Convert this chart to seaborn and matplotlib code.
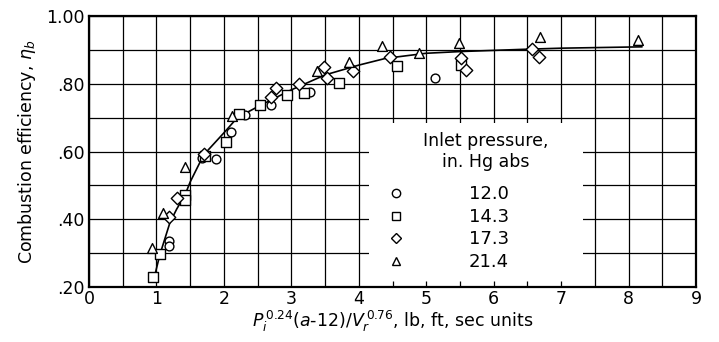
import numpy as np
import pandas as pd
import matplotlib
matplotlib.use("Agg")
import matplotlib.pyplot as plt
from matplotlib.lines import Line2D
from matplotlib.patches import Rectangle
import seaborn as sns

# ---- data ----
p120_x = [1.18, 1.18, 1.68, 1.89, 2.10, 2.32, 2.70, 3.27, 5.13]
p120_y = [0.336, 0.322, 0.582, 0.577, 0.657, 0.708, 0.737, 0.777, 0.818]

p143_x = [0.945, 1.053, 1.42, 1.42, 1.72, 2.03, 2.23, 2.54, 2.93, 3.19, 3.70, 4.56, 5.51]
p143_y = [0.229, 0.298, 0.472, 0.457, 0.588, 0.629, 0.711, 0.737, 0.767, 0.774, 0.803, 0.853, 0.855]

p173_x = [1.19, 1.30, 1.70, 2.70, 2.77, 3.12, 3.49, 3.53, 3.92, 4.46, 5.51, 5.59, 6.57, 6.67]
p173_y = [0.406, 0.464, 0.593, 0.762, 0.787, 0.799, 0.849, 0.816, 0.839, 0.878, 0.875, 0.841, 0.902, 0.878]

p214_x = [0.93, 1.10, 1.42, 2.12, 3.38, 3.85, 4.34, 4.90, 5.49, 6.68, 8.14]
p214_y = [0.315, 0.418, 0.555, 0.705, 0.839, 0.865, 0.912, 0.890, 0.921, 0.939, 0.929]

curve_x = [0.97, 1.05, 1.20, 1.30, 1.42, 1.50, 1.70, 2.00, 2.20, 2.50, 3.00, 3.50,
           4.00, 4.40, 5.00, 5.50, 6.50, 7.00, 8.20]
curve_y = [0.230, 0.295, 0.390, 0.430, 0.470, 0.510, 0.590, 0.655, 0.700, 0.732, 0.782,
           0.826, 0.855, 0.875, 0.890, 0.895, 0.902, 0.905, 0.909]

pressure_labels = ["12.0", "14.3", "17.3", "21.4"]
x_ticks = [0, 1, 2, 3, 4, 5, 6, 7, 8, 9]
y_ticks = [0.20, 0.40, 0.60, 0.80, 1.00]
y_ticklabels = [".20", ".40", ".60", ".80", "1.00"]

# ---- build table ----
frames = []
for lab, xs, ys in zip(pressure_labels,
                       [p120_x, p143_x, p173_x, p214_x],
                       [p120_y, p143_y, p173_y, p214_y]):
    frames.append(pd.DataFrame({"x": xs, "y": ys, "p": lab}))
df = pd.concat(frames, ignore_index=True)
curve = pd.DataFrame({"x": curve_x, "y": curve_y})

sns.set_style("white")
plt.rcParams["font.family"] = ["DejaVu Sans"]
plt.rcParams["mathtext.fontset"] = "dejavusans"
plt.rcParams["text.color"] = "black"
plt.rcParams["axes.labelcolor"] = "black"

fig = plt.figure(figsize=(7.19, 3.42), dpi=100)
ax = fig.add_axes([89 / 719, 1 - 287 / 342, (696 - 89) / 719, (287 - 16) / 342])

ax.set_xlim(0, 9)
ax.set_ylim(0.2, 1.0)

# grid
ax.set_xticks(np.arange(0, 9.01, 0.5), minor=True)
ax.set_yticks(np.arange(0.2, 1.001, 0.1), minor=True)
ax.grid(True, which="both", color="black", linewidth=0.9)
ax.set_axisbelow(True)

# white legend area covering grid
ax.add_patch(Rectangle((4.15, 0.2), 7.33 - 4.15, 0.683 - 0.2, facecolor="white",
                       edgecolor="none", zorder=1.5))
ax.vlines([4.5, 5.0, 5.5, 6.0, 6.5, 7.0], 0.2, 0.218, color="black", linewidth=0.9, zorder=1.6)

# fitted curve
sns.lineplot(data=curve, x="x", y="y", sort=False, color="black", linewidth=1.2,
             ax=ax, zorder=3)

markers = {"12.0": "o", "14.3": "s", "17.3": "D", "21.4": "^"}
sizes = {"12.0": 40, "14.3": 42, "17.3": 40, "21.4": 50}
for lab in pressure_labels:
    sub = df[df["p"] == lab]
    sns.scatterplot(data=sub, x="x", y="y", marker=markers[lab], s=sizes[lab],
                    color="white", edgecolor="black", linewidth=1.0, ax=ax, zorder=4)

ax.set_xticks(x_ticks)
ax.set_xticklabels([str(t) for t in x_ticks])
ax.set_yticks(y_ticks)
ax.set_yticklabels(y_ticklabels)
ax.tick_params(axis="both", which="both", length=0, labelsize=12.5, colors="black",
               labelcolor="black", pad=3)
ax.tick_params(axis="x", pad=2)

for s in ax.spines.values():
    s.set_visible(True)
    s.set_color("black")
    s.set_linewidth(1.6)

ax.set_xlabel(r"$P_i^{\,0.24}$($a$-12)/$V_r^{\,0.76}$, lb, ft, sec units", fontsize=12.5,
              labelpad=1, color="black")
ax.set_ylabel(r"Combustion efficiency, $\eta_b$", fontsize=12.5, labelpad=6, color="black")

# legend
ax.text(5.88, 0.600, "Inlet pressure,\nin. Hg abs", ha="center", va="center",
        multialignment="center", fontsize=12.5, linespacing=1.25, zorder=5, color="black")
handles = [Line2D([], [], marker=markers[l], linestyle="none", markersize=6 if l != "17.3" else 5.5,
                  markerfacecolor="white", markeredgecolor="black", markeredgewidth=1.0)
           for l in pressure_labels]
leg = ax.legend(handles, pressure_labels, loc="upper left", bbox_to_anchor=(4.45, 0.50),
                bbox_transform=ax.transData, frameon=False, fontsize=13,
                handlelength=0.8, handletextpad=3.6, labelspacing=0.25, borderpad=0,
                borderaxespad=0, labelcolor="black")
leg.set_zorder(5)

fig.savefig("out.png", dpi=100)
